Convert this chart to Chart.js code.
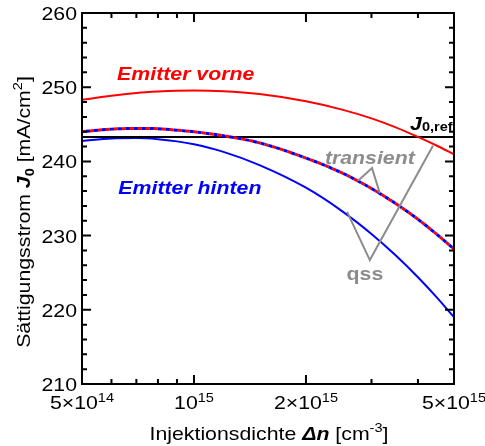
<!DOCTYPE html>
<html>
<head>
<meta charset="utf-8">
<script src="https://cdn.jsdelivr.net/npm/chart.js@4.4.1/dist/chart.umd.min.js"></script>
<style>
  html, body { margin: 0; padding: 0; background: #fff; }
  #wrap { position: relative; width: 485px; height: 446px; }
</style>
</head>
<body>
<div id="wrap"><canvas id="chart" width="485" height="446"></canvas></div>
<script>
// Injektionsdichte Δn [cm^-3]
const dn = [5e14, 6e14, 7e14, 8e14, 9e14, 1e15, 1.2e15, 1.5e15, 2e15, 2.5e15, 3e15, 3.5e15, 4e15, 4.5e15, 5e15];
// Sättigungsstrom J0 [mA/cm²]
const emitterVorne  = [248.3, 248.86, 249.22, 249.42, 249.53, 249.56, 249.46, 249.07, 248.1, 246.98, 245.8, 244.56, 243.3, 242.11, 240.95];
const emitterHinten = [242.75, 243.1, 243.15, 243.0, 242.7, 242.3, 241.28, 239.5, 236.45, 233.3, 230.22, 227.25, 224.39, 221.65, 219.0];
const transientQss  = [244.0, 244.35, 244.45, 244.4, 244.2, 244.0, 243.45, 242.5, 240.45, 238.45, 236.35, 234.25, 232.2, 230.15, 228.2];
const j0Ref = 243.3;

// Hinweislinien (Δn, J0)
const transientPfeil = [[2.76e15, 237.4], [3.01e15, 239.1], [3.16e15, 235.7]];
const qssPfeil       = [[2.58e15, 233.2], [2.97e15, 226.7], [4.39e15, 242.1]];

// Achsen
const yTicks = [210, 220, 230, 240, 250, 260];
const yMinor = [212, 214, 216, 218, 222, 224, 226, 228, 232, 234, 236, 238, 242, 244, 246, 248, 252, 254, 256, 258];
const xMajor = [5e14, 1e15, 2e15, 5e15];
const xMinor = [6e14, 7e14, 8e14, 9e14, 3e15, 4e15];
const xTickLabels = [['5×10', '14'], ['10', '15'], ['2×10', '15'], ['5×10', '15']];

const FONT = "'Liberation Sans', Arial, sans-serif";
const SX = 1.12; // leichte Breitenstreckung der Schrift

const pts = (xs, ys) => xs.map((x, i) => ({ x: x, y: ys[i] }));
const pairs = arr => arr.map(p => ({ x: p[0], y: p[1] }));

function f(size, style) { return (style || '') + ' ' + size + 'px ' + FONT; }

function richWidth(ctx, parts) {
    let w = 0;
    parts.forEach(p => { ctx.font = p.font; w += ctx.measureText(p.t).width; });
    return w;
}

// Text aus mehreren Stücken (kursiv, hoch-/tiefgestellt) zeichnen
function drawRich(ctx, parts, x, y, align, color, rot) {
    ctx.save();
    ctx.translate(x, y);
    if (rot) ctx.rotate(rot);
    ctx.scale(SX, 1);
    ctx.textBaseline = 'alphabetic';
    ctx.textAlign = 'left';
    const w = richWidth(ctx, parts);
    let cx = align === 'center' ? -w / 2 : align === 'right' ? -w : 0;
    parts.forEach(p => {
        ctx.font = p.font;
        ctx.fillStyle = p.color || color;
        ctx.fillText(p.t, cx, p.dy || 0);
        cx += ctx.measureText(p.t).width;
    });
    ctx.restore();
}

const rahmenPlugin = {
    id: 'rahmen',
    afterDraw(chart) {
        const ctx = chart.ctx;
        const xs = chart.scales.x, ys = chart.scales.y;
        const a = chart.chartArea;
        ctx.save();
        ctx.strokeStyle = '#000';
        ctx.lineWidth = 2;
        ctx.strokeRect(a.left, a.top, a.right - a.left, a.bottom - a.top);

        // Ticks nach innen, alle vier Seiten
        ctx.beginPath();
        const tickX = (v, len) => {
            const px = xs.getPixelForValue(v);
            ctx.moveTo(px, a.bottom); ctx.lineTo(px, a.bottom - len);
            ctx.moveTo(px, a.top); ctx.lineTo(px, a.top + len);
        };
        const tickY = (v, len) => {
            const py = ys.getPixelForValue(v);
            ctx.moveTo(a.left, py); ctx.lineTo(a.left + len, py);
            ctx.moveTo(a.right, py); ctx.lineTo(a.right - len, py);
        };
        xMajor.forEach(v => tickX(v, 9));
        xMinor.forEach(v => tickX(v, 5));
        yTicks.forEach(v => tickY(v, 9));
        yMinor.forEach(v => tickY(v, 5));
        ctx.stroke();

        // Tick-Beschriftungen
        yTicks.forEach(v => {
            drawRich(ctx, [{ t: String(v), font: f(19) }], a.left - 5, ys.getPixelForValue(v) + 7, 'right', '#000');
        });
        xMajor.forEach((v, i) => {
            const l = xTickLabels[i];
            drawRich(ctx, [{ t: l[0], font: f(19) }, { t: l[1], font: f(13), dy: -7 }],
                xs.getPixelForValue(v), a.bottom + 25, 'center', '#000');
        });

        // Achsentitel
        drawRich(ctx, [
            { t: 'Injektionsdichte ', font: f(19) },
            { t: 'Δn', font: f(19, 'italic bold') },
            { t: ' [cm', font: f(19) },
            { t: '-3', font: f(13), dy: -8 },
            { t: ']', font: f(19) }
        ], 269, 440, 'center', '#000');
        drawRich(ctx, [
            { t: 'Sättigungsstrom ', font: f(19) },
            { t: 'J', font: f(19, 'italic bold') },
            { t: '0', font: f(13, 'bold'), dy: 4 },
            { t: ' [mA/cm', font: f(19) },
            { t: '2', font: f(13), dy: -8 },
            { t: ']', font: f(19) }
        ], 30, 212, 'center', '#000', -Math.PI / 2);

        // Kurvenbeschriftungen
        const at = (x, y) => [xs.getPixelForValue(x), ys.getPixelForValue(y)];
        let p = at(9.5e14, 251.9);
        drawRich(ctx, [{ t: 'Emitter vorne', font: f(19, 'italic bold') }], p[0], p[1] + 7, 'center', '#ff0000');
        p = at(9.75e14, 236.55);
        drawRich(ctx, [{ t: 'Emitter hinten', font: f(19, 'italic bold') }], p[0], p[1] + 7, 'center', '#0000ff');
        p = at(2.97e15, 240.6);
        drawRich(ctx, [{ t: 'transient', font: f(19, 'italic bold') }], p[0], p[1] + 7, 'center', '#8c8c8c');
        p = at(2.88e15, 224.96);
        drawRich(ctx, [{ t: 'qss', font: f(19, 'bold') }], p[0], p[1] + 7, 'center', '#8c8c8c');
        p = at(3.81e15, 244.2);
        drawRich(ctx, [
            { t: 'J', font: f(19, 'italic bold') },
            { t: '0,ref', font: f(13, 'bold'), dy: 1 }
        ], p[0], p[1], 'left', '#000');
        ctx.restore();
    }
};

const kurve = { showLine: true, pointRadius: 0, pointHoverRadius: 0, fill: false, cubicInterpolationMode: 'monotone' };

new Chart(document.getElementById('chart'), {
    type: 'scatter',
    data: {
        datasets: [
            Object.assign({}, kurve, { label: 'qss Pfeil', data: pairs(qssPfeil), borderColor: '#8c8c8c', borderWidth: 2, cubicInterpolationMode: 'default', tension: 0, order: 1 }),
            Object.assign({}, kurve, { label: 'transient Pfeil', data: pairs(transientPfeil), borderColor: '#8c8c8c', borderWidth: 2, cubicInterpolationMode: 'default', tension: 0, order: 1 }),
            Object.assign({}, kurve, { label: 'transient/qss blau', data: pts(dn, transientQss), borderColor: '#0000ff', borderWidth: 3, borderDash: [4, 4], borderDashOffset: 4, order: 2 }),
            Object.assign({}, kurve, { label: 'transient/qss rot', data: pts(dn, transientQss), borderColor: '#ff0000', borderWidth: 3, borderDash: [4, 4], order: 3 }),
            Object.assign({}, kurve, { label: 'Emitter vorne', data: pts(dn, emitterVorne), borderColor: '#ff0000', borderWidth: 2, order: 4 }),
            Object.assign({}, kurve, { label: 'J0,ref', data: [{ x: dn[0], y: j0Ref }, { x: dn[dn.length - 1], y: j0Ref }], borderColor: '#000', borderWidth: 2, order: 5 }),
            Object.assign({}, kurve, { label: 'Emitter hinten', data: pts(dn, emitterHinten), borderColor: '#0000ff', borderWidth: 2, order: 6 })
        ]
    },
    options: {
        responsive: false,
        animation: false,
        events: [],
        layout: { padding: { left: 82, right: 31, top: 13, bottom: 62 } },
        scales: {
            x: { type: 'logarithmic', min: 5e14, max: 5e15, display: false },
            y: { type: 'linear', min: 210, max: 260, display: false }
        },
        plugins: { legend: { display: false }, tooltip: { enabled: false } }
    },
    plugins: [rahmenPlugin]
});
</script>
</body>
</html>
